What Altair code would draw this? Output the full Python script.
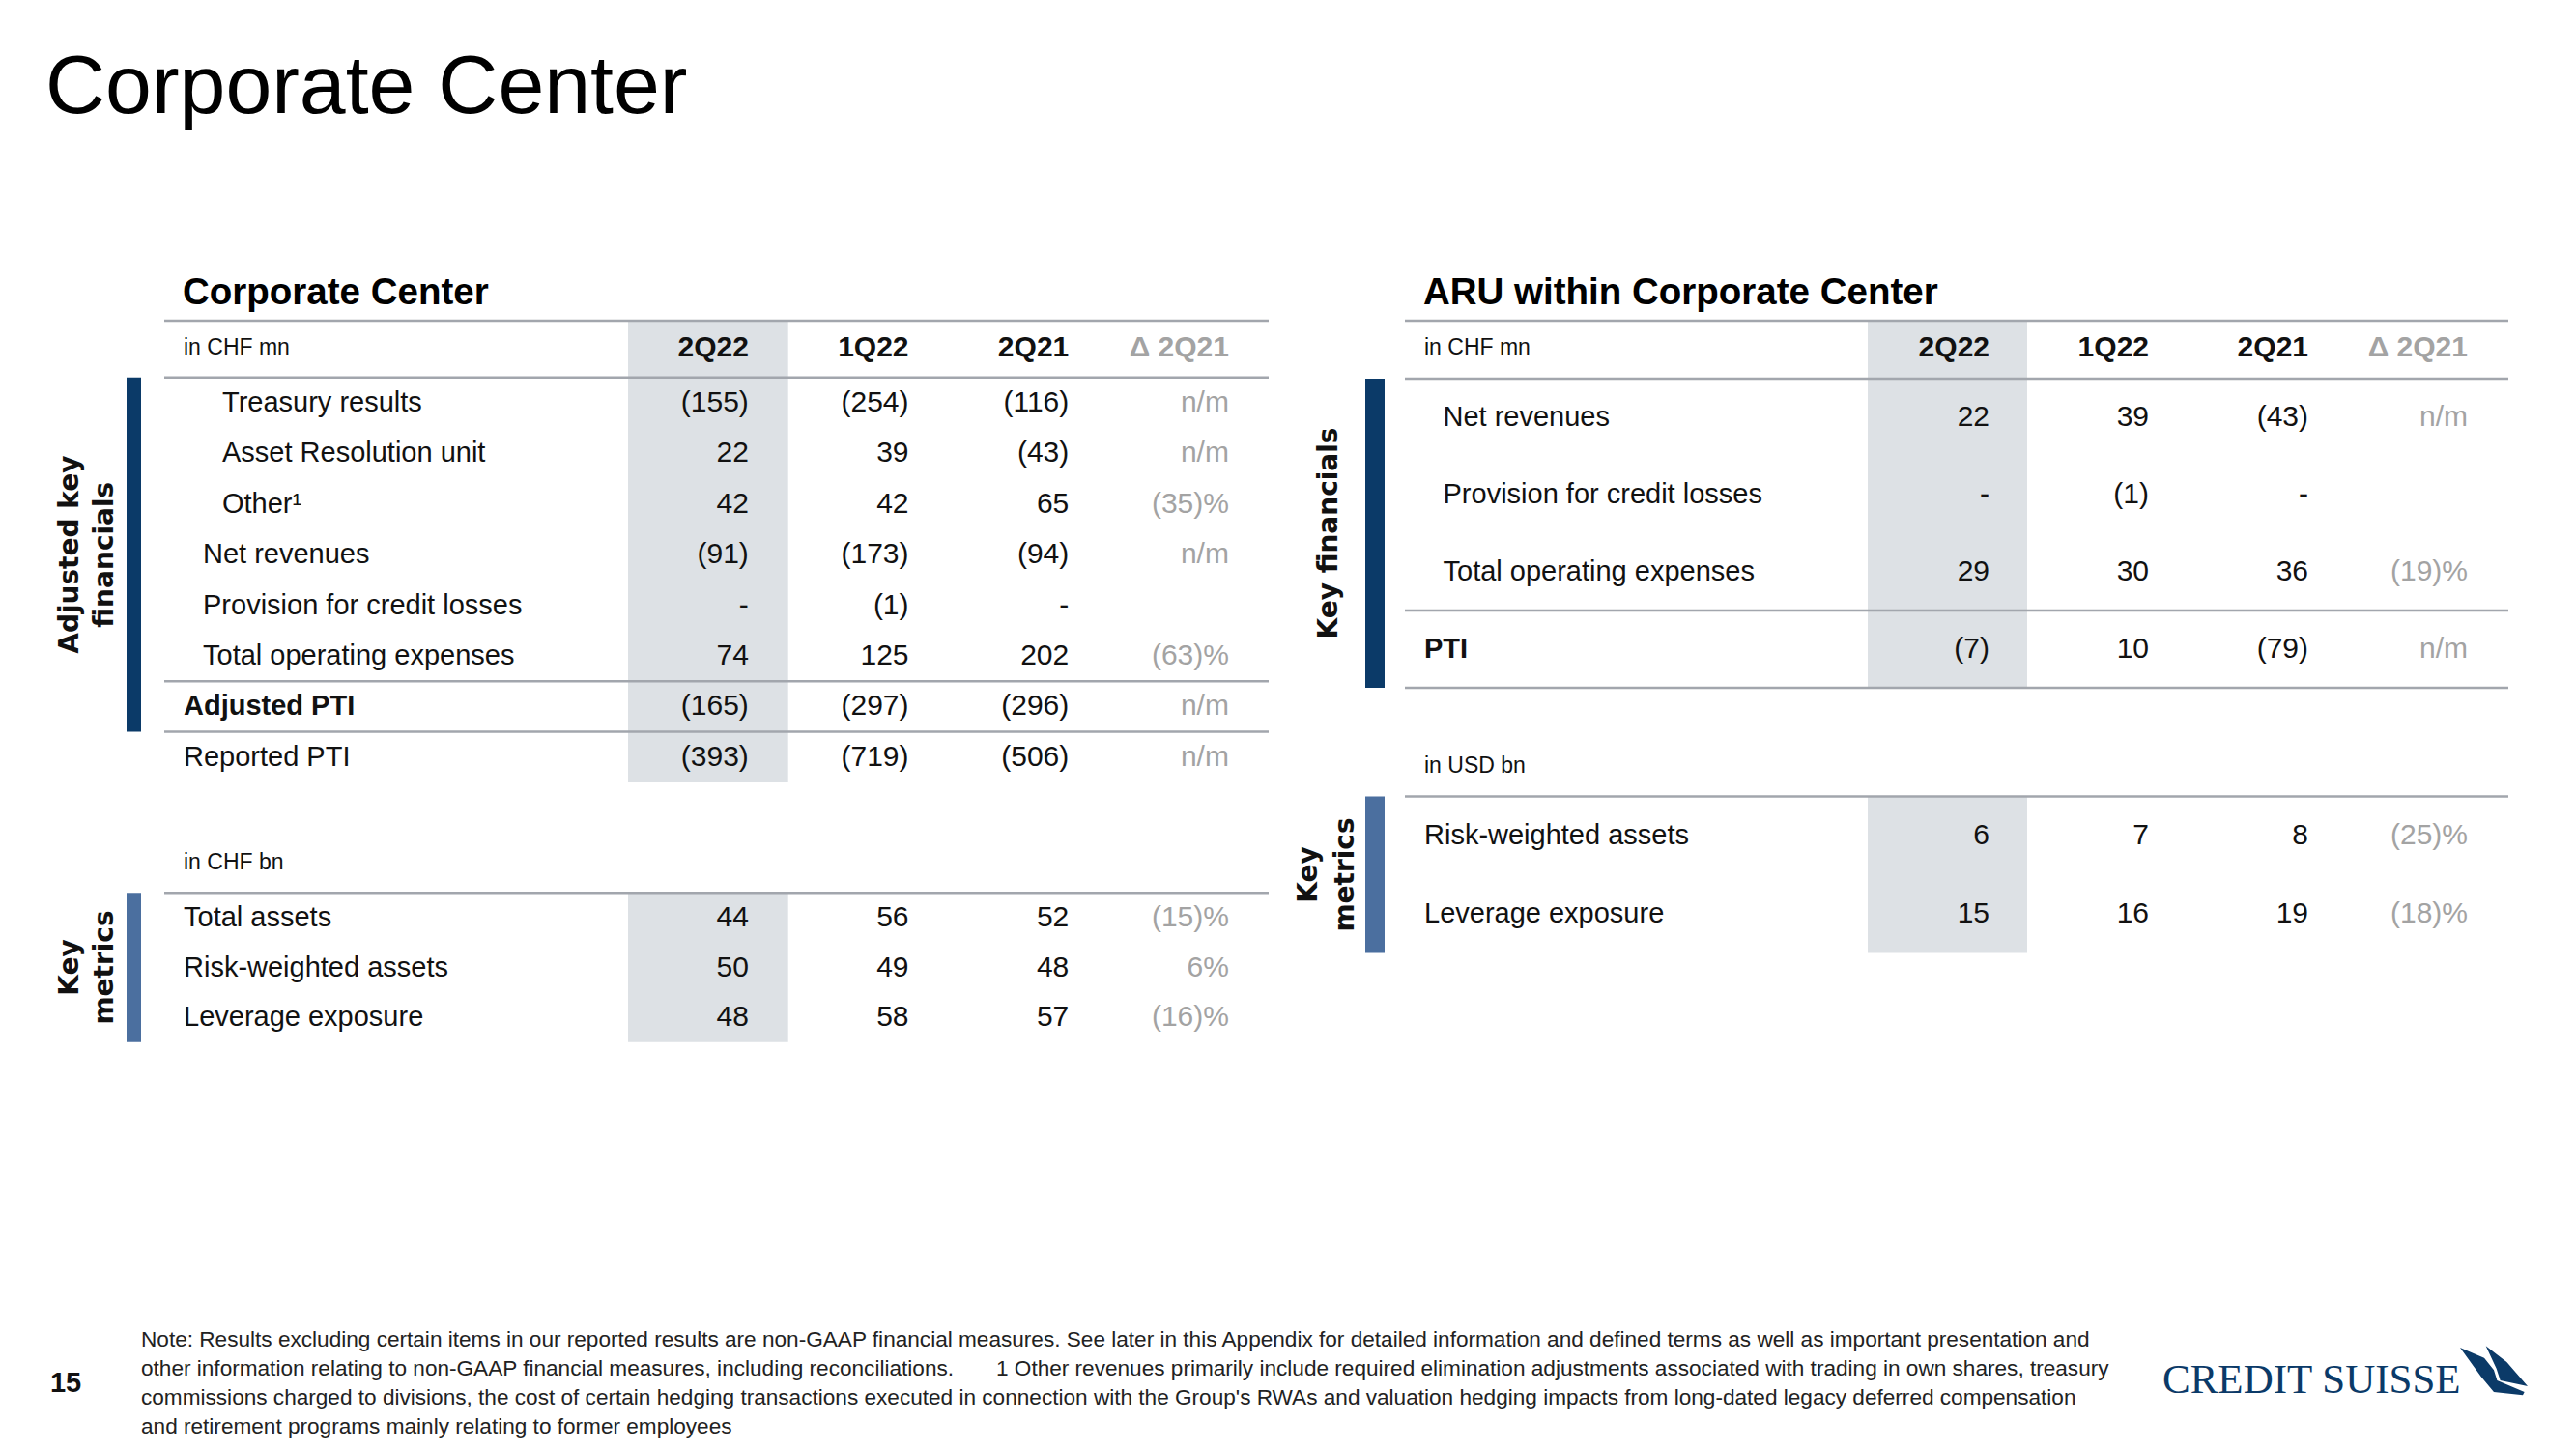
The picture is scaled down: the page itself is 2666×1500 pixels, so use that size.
import altair as alt
import pandas as pd

# ------------------------------------------------------------------ data
periods = ["2Q22", "1Q22", "2Q21"]
delta_header = "Δ 2Q21"

cc_rows = ["Treasury results", "Asset Resolution unit", "Other¹", "Net revenues",
           "Provision for credit losses", "Total operating expenses", "Adjusted PTI", "Reported PTI"]
cc_indent = [2, 2, 2, 1, 1, 1, 0, 0]
cc_bold = [False, False, False, False, False, False, True, False]
cc_2q22 = [-155, 22, 42, -91, None, 74, -165, -393]
cc_1q22 = [-254, 39, 42, -173, -1, 125, -297, -719]
cc_2q21 = [-116, -43, 65, -94, None, 202, -296, -506]
cc_delta = ["n/m", "n/m", -35, "n/m", "", -63, "n/m", "n/m"]

cc_metric_rows = ["Total assets", "Risk-weighted assets", "Leverage exposure"]
cc_metric_2q22 = [44, 50, 48]
cc_metric_1q22 = [56, 49, 58]
cc_metric_2q21 = [52, 48, 57]
cc_metric_delta = [-15, 6, -16]

aru_rows = ["Net revenues", "Provision for credit losses", "Total operating expenses", "PTI"]
aru_indent = [1, 1, 1, 0]
aru_bold = [False, False, False, True]
aru_2q22 = [22, None, 29, -7]
aru_1q22 = [39, -1, 30, 10]
aru_2q21 = [-43, None, 36, -79]
aru_delta = ["n/m", "", -19, "n/m"]

aru_metric_rows = ["Risk-weighted assets", "Leverage exposure"]
aru_metric_2q22 = [6, 15]
aru_metric_1q22 = [7, 16]
aru_metric_2q21 = [8, 19]
aru_metric_delta = [-25, -18]

page_title = "Corporate Center"
section_titles = ["Corporate Center", "ARU within Corporate Center"]
footnote_lines = [
    "Note: Results excluding certain items in our reported results are non-GAAP financial measures. See later in this Appendix for detailed information and defined terms as well as important presentation and",
    "other information relating to non-GAAP financial measures, including reconciliations.\u00a0\u00a0\u00a0\u00a0\u00a0\u00a0\u00a01 Other revenues primarily include required elimination adjustments associated with trading in own shares, treasury",
    "commissions charged to divisions, the cost of certain hedging transactions executed in connection with the Group's RWAs and valuation hedging impacts from long-dated legacy deferred compensation",
    "and retirement programs mainly relating to former employees",
]
page_number = "15"
logo_text = "CREDIT SUISSE"

# ------------------------------------------------------------------ style
OFF = 8
FONT = "Liberation Sans"
VFONT = "DejaVu Sans"
NAVY = "#0b3a68"
STEEL = "#4b6f9f"
GRAY_FILL = "#dde1e5"
RULE = "#a2a6ad"
DELTA = "#a3a3a3"
INK = "#111111"
COLS = periods + [delta_header]


def fmt_val(v):
    if v is None:
        return "-"
    return f"({abs(v)})" if v < 0 else f"{v}"


def fmt_delta(v):
    if isinstance(v, str):
        return v
    return f"({abs(v)})%" if v < 0 else f"{v}%"


def lin(a, b):
    return alt.Scale(domain=[0, 1], range=[a - OFF, b - OFF], nice=False, zero=False)


def band(left, width):
    return alt.Scale(domain=COLS, range=[left - OFF, left + width * len(COLS) - OFF],
                     paddingInner=0, paddingOuter=0)


def txt(df, x, y, **mark):
    m = dict(font=FONT, baseline="middle", color=INK)
    m.update(mark)
    return alt.Chart(df).mark_text(**m).encode(x=x, y=y, text="text:N")


def block(g, labels, indent, bold, series, header_text, show_periods, vlabels, bar_color):
    ys = lin(g["y0"], g["y0"] + g["pitch"])
    bs = band(g["band_left"], g["band_w"])
    lx = lin(g["lx0"], g["lx0"] + g["lstep"])
    out = []
    # shaded current-period column
    gdf = pd.DataFrame({"col": [periods[0]], "y": [g["top"]], "y2": [g["bottom"]]})
    out.append(alt.Chart(gdf).mark_rect(color=GRAY_FILL).encode(
        x=alt.X("col:N", scale=bs, axis=None),
        y=alt.Y("y:Q", scale=ys, axis=None), y2="y2:Q"))
    # horizontal rules
    rdf = pd.DataFrame({"y": g["rules"], "x0": 0, "x1": 1})
    out.append(alt.Chart(rdf).mark_rule(color=RULE, strokeWidth=2.5).encode(
        x=alt.X("x0:Q", scale=lin(g["rule_left"], g["rule_right"]), axis=None), x2="x1:Q",
        y=alt.Y("y:Q", scale=ys, axis=None)))
    # side bar
    bdf = pd.DataFrame({"x0": [0], "x1": [1], "y": [g["bar_top"]], "y2": [g["bar_bottom"]]})
    out.append(alt.Chart(bdf).mark_rect(color=bar_color).encode(
        x=alt.X("x0:Q", scale=lin(g["bar_left"], g["bar_right"]), axis=None), x2="x1:Q",
        y=alt.Y("y:Q", scale=ys, axis=None), y2="y2:Q"))
    # row labels
    ldf = pd.DataFrame({"text": labels, "level": indent, "r": list(range(len(labels))), "bold": bold})
    for w in (False, True):
        sub = ldf[ldf["bold"] == w]
        if len(sub):
            out.append(txt(sub, alt.X("level:Q", scale=lx, axis=None), alt.Y("r:Q", scale=ys, axis=None),
                           align="left", fontSize=29, fontWeight="bold" if w else "normal"))
    # values
    rows = []
    for i in range(len(labels)):
        for c, s in zip(COLS, series):
            t = fmt_delta(s[i]) if c == delta_header else fmt_val(s[i])
            rows.append({"r": i, "col": c, "text": t, "delta": c == delta_header})
    vdf = pd.DataFrame(rows)
    for d in (False, True):
        out.append(txt(vdf[vdf["delta"] == d], alt.X("col:N", scale=bs, axis=None),
                       alt.Y("r:Q", scale=ys, axis=None), align="right", dx=g["dx"],
                       fontSize=30, color=DELTA if d else INK))
    # header
    hdf = pd.DataFrame({"text": [header_text], "level": [0], "r": [g["hdr"]]})
    out.append(txt(hdf, alt.X("level:Q", scale=lx, axis=None), alt.Y("r:Q", scale=ys, axis=None),
                   align="left", fontSize=23))
    if show_periods:
        pdf = pd.DataFrame({"text": COLS, "col": COLS, "r": g["hdr"], "delta": [False, False, False, True]})
        for d in (False, True):
            out.append(txt(pdf[pdf["delta"] == d], alt.X("col:N", scale=bs, axis=None),
                           alt.Y("r:Q", scale=ys, axis=None), align="right", dx=g["dx"],
                           fontSize=30, fontWeight="bold", color=DELTA if d else INK))
    # vertical label
    vx = g["vx"]
    vdf2 = pd.DataFrame({"text": vlabels, "k": list(range(len(vlabels))), "r": g["vcenter"]})
    out.append(txt(vdf2, alt.X("k:Q", scale=lin(vx[0], vx[1]), axis=None),
                   alt.Y("r:Q", scale=ys, axis=None), align="center", angle=270,
                   font=VFONT, fontSize=28, fontWeight="bold"))
    return out


geo_cc = dict(y0=417, pitch=52.4, hdr=-1.09, top=-1.62, bottom=7.5, rules=[-1.62, -0.5, 5.5, 6.5],
              bar_top=-0.5, bar_bottom=6.5, lx0=190, lstep=20, band_left=650, band_w=165.7, dx=42,
              rule_left=170, rule_right=1313, bar_left=131, bar_right=146, vx=[73, 109], vcenter=3.0)
geo_ccm = dict(y0=950, pitch=51.5, hdr=-1.1, top=-0.5, bottom=2.5, rules=[-0.5],
               bar_top=-0.5, bar_bottom=2.5, lx0=190, lstep=20, band_left=650, band_w=165.7, dx=42,
               rule_left=170, rule_right=1313, bar_left=131, bar_right=146, vx=[73, 109], vcenter=1.0)
geo_aru = dict(y0=432, pitch=80, hdr=-0.9, top=-1.25, bottom=3.5, rules=[-1.25, -0.5, 2.5, 3.5],
               bar_top=-0.5, bar_bottom=3.5, lx0=1474, lstep=19.5, band_left=1933, band_w=165, dx=43.5,
               rule_left=1454, rule_right=2596, bar_left=1413, bar_right=1433, vx=[1376, 1377], vcenter=1.5)
geo_arum = dict(y0=865, pitch=81, hdr=-0.89, top=-0.5, bottom=1.5, rules=[-0.5],
                bar_top=-0.5, bar_bottom=1.5, lx0=1474, lstep=19.5, band_left=1933, band_w=165, dx=43.5,
                rule_left=1454, rule_right=2596, bar_left=1413, bar_right=1433, vx=[1355, 1393], vcenter=0.5)

layers = []
layers += block(geo_cc, cc_rows, cc_indent, cc_bold, [cc_2q22, cc_1q22, cc_2q21, cc_delta],
                "in CHF mn", True, ["Adjusted key", "financials"], NAVY)
layers += block(geo_ccm, cc_metric_rows, [0, 0, 0], [False] * 3,
                [cc_metric_2q22, cc_metric_1q22, cc_metric_2q21, cc_metric_delta],
                "in CHF bn", False, ["Key", "metrics"], STEEL)
layers += block(geo_aru, aru_rows, aru_indent, aru_bold, [aru_2q22, aru_1q22, aru_2q21, aru_delta],
                "in CHF mn", True, ["Key financials"], NAVY)
layers += block(geo_arum, aru_metric_rows, [0, 0], [False] * 2,
                [aru_metric_2q22, aru_metric_1q22, aru_metric_2q21, aru_metric_delta],
                "in USD bn", False, ["Key", "metrics"], STEEL)

# page title
tdf = pd.DataFrame({"text": [page_title], "k": [0]})
layers.append(txt(tdf, alt.X("k:Q", scale=lin(47, 48), axis=None), alt.Y("k:Q", scale=lin(117, 118), axis=None),
                  align="left", baseline="alphabetic", fontSize=86, color="#000000"))
# section titles
sdf = pd.DataFrame({"text": section_titles, "k": [0, 1], "y": [0, 0]})
layers.append(txt(sdf, alt.X("k:Q", scale=lin(189, 1473), axis=None), alt.Y("y:Q", scale=lin(315, 316), axis=None),
                  align="left", baseline="alphabetic", fontSize=38.5, fontWeight="bold", color="#000000"))
# footnote
fdf = pd.DataFrame({"text": footnote_lines, "k": list(range(len(footnote_lines))), "x": 0})
layers.append(txt(fdf, alt.X("x:Q", scale=lin(146, 147), axis=None), alt.Y("k:Q", scale=lin(1387, 1417), axis=None),
                  align="left", fontSize=22.6, color="#222222"))
# page number
ndf = pd.DataFrame({"text": [page_number], "k": [0]})
layers.append(txt(ndf, alt.X("k:Q", scale=lin(68, 69), axis=None), alt.Y("k:Q", scale=lin(1432, 1433), axis=None),
                  align="center", fontSize=29, fontWeight="bold"))
# logo
gdf = pd.DataFrame({"text": [logo_text], "k": [0]})
layers.append(txt(gdf, alt.X("k:Q", scale=lin(2238, 2239), axis=None), alt.Y("k:Q", scale=lin(1442, 1443), axis=None),
                  align="left", baseline="alphabetic", font="Liberation Serif", fontSize=43, color=NAVY))
SAILS = ("M-0.921,-0.658 L-0.263,-0.377 L0,-0.044 L0.088,0.237 L0.833,0.553 L0.789,0.64 L0,0.553 L-0.351,0.132 Z "
         "M-0.219,-0.702 L0.351,-0.263 L0.921,0.395 L0.175,0.237 L0.07,-0.088 Z")
layers.append(alt.Chart(gdf).mark_point(shape=SAILS, filled=True, size=5776, color=NAVY, opacity=1, strokeWidth=0)
              .encode(x=alt.X("k:Q", scale=lin(2581, 2582), axis=None),
                      y=alt.Y("k:Q", scale=lin(1420, 1421), axis=None)))

chart = (alt.layer(*layers)
         .resolve_scale(x="independent", y="independent")
         .properties(width=2650, height=1484, padding=0, autosize=alt.AutoSizeParams(type="none"),
                     background="white")
         .configure_view(stroke=None))

chart.save("out.html", embed_options={"renderer": "svg", "actions": False})
